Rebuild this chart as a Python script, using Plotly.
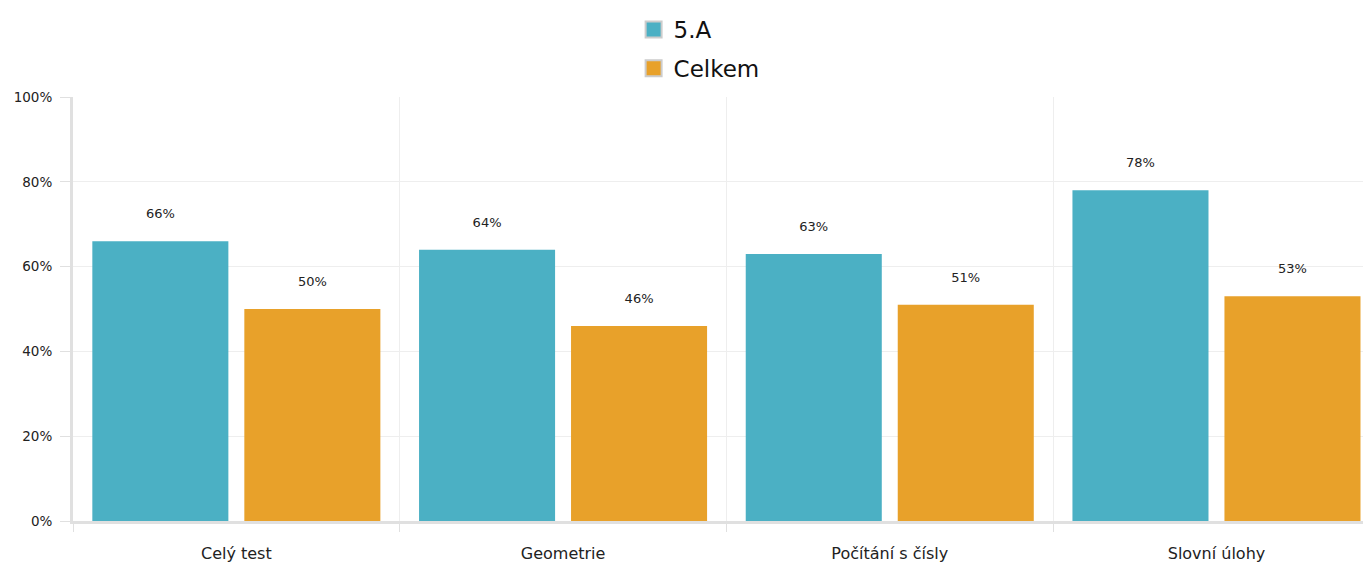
import plotly.graph_objects as go

categories = ["Celý test", "Geometrie", "Počítání s čísly", "Slovní úlohy"]
class_5a = [66, 64, 63, 78]
celkem = [50, 46, 51, 53]
series_names = ["5.A", "Celkem"]
y_ticks = [0, 20, 40, 60, 80, 100]

teal = "#4BB0C4"
orange = "#E8A12A"
font_family = "DejaVu Sans, Verdana, sans-serif"

fig = go.Figure()
for name, vals, col in [(series_names[0], class_5a, teal), (series_names[1], celkem, orange)]:
    fig.add_trace(go.Bar(
        name=name, x=categories, y=vals,
        marker=dict(color=col, line=dict(width=0)),
        text=[f"{v}%" for v in vals],
        texttemplate="%{text}<br> ",
        textposition="outside",
        textfont=dict(size=13, color="#222", family=font_family),
        cliponaxis=False,
        showlegend=False,
        legendgroup=name,
    ))
    # legend swatch (bigger square with grey border, like the reference)
    fig.add_trace(go.Scatter(
        name=name, x=[None], y=[None], mode="markers",
        marker=dict(symbol="square", size=22, color=col, line=dict(color="#CCCCCC", width=2)),
        showlegend=True, legendgroup=name, hoverinfo="skip",
    ))

fig.update_layout(
    width=1363, height=558,
    margin=dict(l=65, r=0, t=89, b=45, autoexpand=False),
    paper_bgcolor="white", plot_bgcolor="white",
    barmode="group", bargap=0.0695, bargroupgap=0.105,
    font=dict(family=font_family, color="#222"),
    showlegend=True,
    legend=dict(
        orientation="v", xref="container", yref="container",
        x=0.459, xanchor="left", y=1.0, yanchor="top",
        font=dict(size=23, color="#111"),
        tracegroupgap=6, itemwidth=30,
    ),
    xaxis=dict(
        type="category", range=[-0.5, 3.473],
        showgrid=True, gridcolor="#EEEEEE", gridwidth=1,
        tickson="boundaries", ticks="outside", ticklen=8, tickcolor="#E0E0E0",
        showline=True, linecolor="#E0E0E0", linewidth=3,
        tickfont=dict(size=16, color="#222"), ticklabelstandoff=16,
    ),
    yaxis=dict(
        range=[0, 100], tickvals=y_ticks, ticktext=[f"{v}%" for v in y_ticks],
        showgrid=True, gridcolor="#EEEEEE", gridwidth=1,
        ticks="outside", ticklen=10, tickcolor="#E0E0E0",
        showline=True, linecolor="#E0E0E0", linewidth=3,
        tickfont=dict(size=13.5, color="#222"), ticklabelstandoff=5,
        zeroline=False,
    ),
)

fig.write_html("out.html")
